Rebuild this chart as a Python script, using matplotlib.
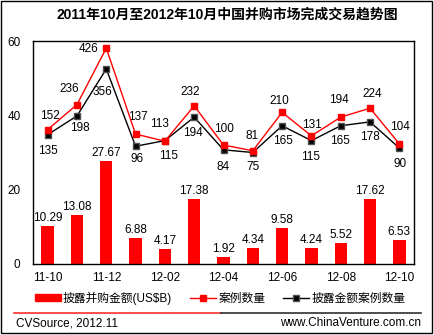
import matplotlib
matplotlib.use('Agg')
import matplotlib.pyplot as plt
from matplotlib.lines import Line2D
from matplotlib.patches import Rectangle
import numpy as np

plt.rcParams['font.family'] = ['Liberation Sans', 'Noto Sans CJK SC', 'DejaVu Sans']

# ---- data ----
title = '2011年10月至2012年10月中国并购市场完成交易趋势图'
months = ['11-10', '11-11', '11-12', '12-01', '12-02', '12-03', '12-04',
          '12-05', '12-06', '12-07', '12-08', '12-09', '12-10']
amount = [10.29, 13.08, 27.67, 6.88, 4.17, 17.38, 1.92, 4.34, 9.58, 4.24, 5.52, 17.62, 6.53]
deals = [152, 236, 426, 137, 113, 232, 100, 81, 210, 131, 194, 224, 104]
disclosed = [135, 198, 356, 96, 115, 194, 84, 75, 165, 115, 165, 178, 90]
legend_labels = ['披露并购金额(US$B)', '案例数量', '披露金额案例数量']
source_left = 'CVSource, 2012.11'
source_right = 'www.ChinaVenture.com.cn'

# label offsets (pixels) for line value labels
red_off = [(2, 14), (-8, 16), (-18, -1), (2, 17), (-5, 17), (-4, 14), (0, 16),
           (-1, 15), (-3, 11), (0, 11), (-2, 17), (2, 14), (1, 17)]
black_off = [(0, -16), (3, -12), (-4, -23), (1, -13), (4, -15), (-1, -16), (0, -17),
             (0, -15), (1, -15), (-1, -16), (-1, -15), (0, -15), (1, -16)]

W, H = 435, 335
fig = plt.figure(figsize=(W / 100, H / 100), dpi=100)


def fx(px):
    return px / W


def fy(py):
    return 1 - py / H


FS = 8.5
RED = '#FF0000'

ax = fig.add_axes([fx(33), fy(264), fx(414) - fx(33), fy(41) - fy(264)])
x = np.arange(len(months))
ax.bar(x, amount, width=0.42, color=RED, zorder=2)
ax.set_xlim(-0.5, len(months) - 0.5)
ax.set_ylim(0, 60)
ax.set_yticks([0, 20, 40, 60])
ax.set_xticks(x[::2])
ax.set_xticklabels(months[::2])
ax.tick_params(axis='x', length=0, labelsize=FS, pad=5.5)
ax.tick_params(axis='y', length=0, labelsize=FS, pad=9)
for s in ax.spines.values():
    s.set_linewidth(1)
    s.set_color('black')
for xi, v in zip(x, amount):
    ax.annotate(f'{v:.2f}', (xi, v), xytext=(0, 2), textcoords='offset pixels',
                ha='center', va='bottom', fontsize=FS)

ax2 = ax.twinx()
ax2.set_ylim(-300, 450)
ax2.set_axis_off()
ax2.plot(x, disclosed, color='black', lw=1, marker='s', ms=4.5,
         mfc='black', mec='#505050', zorder=3)
ax2.plot(x, deals, color=RED, lw=1, marker='s', ms=4.5,
         mfc=RED, mec=RED, zorder=4)
for xi, v, (dx, dy) in zip(x, deals, red_off):
    ax2.annotate(str(v), (xi, v), xytext=(dx, dy), textcoords='offset pixels',
                 ha='center', va='center', fontsize=FS)
for xi, v, (dx, dy) in zip(x, disclosed, black_off):
    ax2.annotate(str(v), (xi, v), xytext=(dx, dy), textcoords='offset pixels',
                 ha='center', va='center', fontsize=FS)

# title
fig.text(fx(227), fy(15), title, ha='center', va='center', fontsize=10,
         fontweight='bold')

# legend
handles = [Rectangle((0, 0), 1, 1, color=RED),
           Line2D([], [], color=RED, lw=1, marker='s', ms=4.5, mfc=RED, mec=RED),
           Line2D([], [], color='black', lw=1, marker='s', ms=4.5, mfc='black', mec='#505050')]
fig.legend(handles, legend_labels, loc='center', bbox_to_anchor=(fx(220), fy(298)),
           ncol=3, frameon=False, handlelength=2.2, handletextpad=0.2,
           columnspacing=1.5, fontsize=FS, handleheight=0.5, borderpad=0)

# separator lines
fig.add_artist(Line2D([fx(14), fx(221)], [fy(313), fy(313)], color='#FF3030', lw=1.2))
fig.add_artist(Line2D([fx(221), fx(421)], [fy(313), fy(313)], color='#303030', lw=1.2))

# footer
fig.text(fx(16), fy(323), source_left, ha='left', va='center', fontsize=FS)
fig.text(fx(421), fy(323), source_right, ha='right', va='center', fontsize=FS)

# outer border
fig.add_artist(Rectangle((fx(1), fy(333)), fx(432) - fx(1), fy(1) - fy(333),
                         fill=False, ec='black', lw=1, transform=fig.transFigure))

fig.savefig('out.png', dpi=100)
